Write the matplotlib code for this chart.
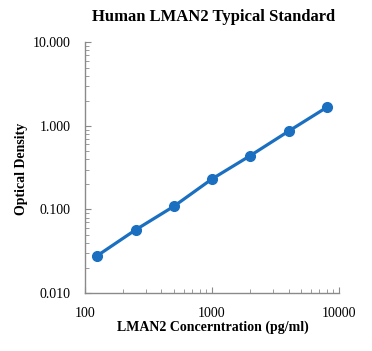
import numpy as np
import matplotlib.pyplot as plt
from matplotlib.ticker import LogLocator, NullFormatter

# standard curve readings
conc = [125, 250, 500, 1000, 2000, 4000, 8000]
od = [0.028, 0.057, 0.109, 0.232, 0.441, 0.864, 1.67]
xticks = [100, 1000, 10000]
xlabels = ["100", "1000", "10000"]
yticks = [0.01, 0.1, 1, 10]
ylabels = ["0.010", "0.100", "1.000", "10.000"]

plt.rcParams['font.family'] = ['Liberation Serif', 'DejaVu Serif']

fig = plt.figure(figsize=(3.72, 3.51), dpi=100)
ax = fig.add_axes([0.2285, 0.1652, 0.683, 0.714])

blue = "#1a6fc0"
ax.plot(conc, od, color=blue, lw=2.3, marker='o', ms=7, solid_capstyle='round')

ax.set_xscale('log')
ax.set_yscale('log')
ax.set_xlim(100, 10000)
ax.set_ylim(0.01, 10)
ax.set_xticks(xticks)
ax.set_xticklabels(xlabels)
ax.set_yticks(yticks)
ax.set_yticklabels(ylabels)
ax.xaxis.set_minor_locator(LogLocator(base=10, subs=np.arange(2, 10)))
ax.yaxis.set_minor_locator(LogLocator(base=10, subs=np.arange(2, 10)))
ax.xaxis.set_minor_formatter(NullFormatter())
ax.yaxis.set_minor_formatter(NullFormatter())

for s in ['top', 'right']:
    ax.spines[s].set_visible(False)
for s in ['left', 'bottom']:
    ax.spines[s].set_color('#8a8a8a')
    ax.spines[s].set_linewidth(1.0)

ax.tick_params(which='both', direction='in', color='#8a8a8a', labelsize=10)
ax.tick_params(which='major', length=4)
ax.tick_params(which='minor', length=3)
ax.tick_params(axis='y', which='major', pad=10.5)
ax.tick_params(axis='x', which='major', pad=10)

fig.text(0.575, 0.952, "Human LMAN2 Typical Standard", ha='center', va='center',
         fontsize=12, fontweight='bold')
fig.text(0.572, 0.069, "LMAN2 Concerntration (pg/ml)", ha='center', va='center',
         fontsize=10, fontweight='bold')
fig.text(0.058, 0.52, "Optical Density", ha='center', va='center', rotation=90,
         fontsize=10, fontweight='bold')

fig.savefig("out.png", dpi=100)
